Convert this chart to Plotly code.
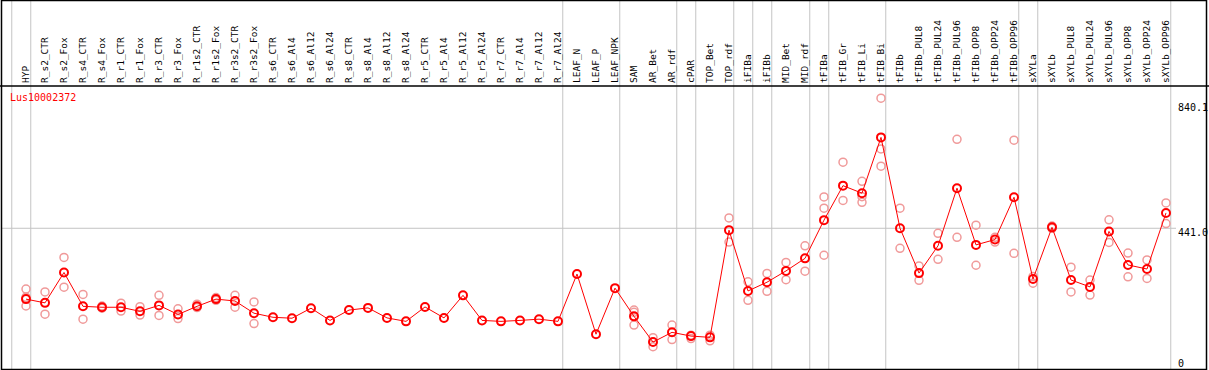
import plotly.graph_objects as go

categories = ["HYP", "R_s2_CTR", "R_s2_Fox", "R_s4_CTR", "R_s4_Fox", "R_r1_CTR", "R_r1_Fox",
              "R_r3_CTR", "R_r3_Fox", "R_r1s2_CTR", "R_r1s2_Fox", "R_r3s2_CTR", "R_r3s2_Fox",
              "R_s6_CTR", "R_s6_Al4", "R_s6_Al12", "R_s6_Al24", "R_s8_CTR", "R_s8_Al4", "R_s8_Al12",
              "R_s8_Al24", "R_r5_CTR", "R_r5_Al4", "R_r5_Al12", "R_r5_Al24", "R_r7_CTR", "R_r7_Al4",
              "R_r7_Al12", "R_r7_Al24", "LEAF_N", "LEAF_P", "LEAF_NPK", "SAM", "AR_Bet", "AR_rdf",
              "cPAR", "TOP_Bet", "TOP_rdf", "iFIBa", "iFIBb", "MID_Bet", "MID_rdf", "tFIBa",
              "tFIB_Gr", "tFIB_Li", "tFIB_Bi", "tFIBb", "tFIBb_PUL8", "tFIBb_PUL24", "tFIBb_PUL96",
              "tFIBb_OPP8", "tFIBb_OPP24", "tFIBb_OPP96", "sXYLa", "sXYLb", "sXYLb_PUL8",
              "sXYLb_PUL24", "sXYLb_PUL96", "sXYLb_OPP8", "sXYLb_OPP24", "sXYLb_OPP96"]

mean_values = [215, 203, 300, 192, 189, 189, 176, 195, 166, 192, 215, 209, 170, 157, 154, 186,
               147, 180, 187, 155, 144, 190, 155, 227, 147, 144, 147, 151, 144, 295, 103, 250,
               160, 78, 109, 97, 93, 435, 241, 269, 305, 345, 467, 577, 553, 731, 441, 298,
               385, 569, 388, 405, 540, 279, 444, 276, 254, 431, 324, 311, 490]

N = None
rep_a = [247, 238, 348, 230, 193, 202, 191, 227, 184, 199, 220, 227, 206, N, N, N,
         N, N, N, N, N, N, N, N, N, N, N, N, N, N, N, N,
         180, 92, 132, 100, 100, 474, 270, 297, 332, 385, 541, 652, 591, 856, 505, 321,
         425, 725, 451, 412, 722, 287, 448, 317, 276, 468, 362, 340, 522]
rep_b = [221, 167, 253, 151, 186, 177, 164, 163, 153, 188, 211, 189, 137, N, N, N,
         N, N, N, N, N, N, N, N, N, N, N, N, N, N, N, N,
         173, 63, 86, 89, 82, 397, 211, 240, 277, 304, 505, 530, 542, 694, 377, 275,
         342, 412, 323, 397, 361, 266, 441, 238, 228, 396, 286, 281, 456]
rep_c = [193, N, N, N, N, N, N, N, N, N, N, N, N, N, N, N,
         N, N, N, N, N, N, N, N, N, N, N, N, N, N, N, N,
         132, N, N, N, N, N, N, N, N, N, 355, N, 524, 639, N, N,
         N, N, N, N, N, N, N, N, N, N, N, N, N]

group_end_index = [-1, 0, 28, 31, 34, 35, 37, 38, 39, 41, 42, 45, 52, 53, 60]

y_tick_values = [840.1, 441.0, 0]
y_tick_labels = ["840.1", "441.0", "0"]
gene_id = "Lus10002372"

W, H = 1209, 370
T, B = 86, 1
x_idx = list(range(len(categories)))
x_min = -26 / 19
x_max = x_min + W / 19
y_min, y_max = -8.0, 895.0

MONO = "DejaVu Sans Mono"
fig = go.Figure()

for reps in (rep_a, rep_b, rep_c):
    fig.add_trace(go.Scatter(
        x=x_idx, y=reps, mode="markers",
        marker=dict(symbol="circle-open", size=8, color="#F09A9A", line=dict(width=1.5, color="#F09A9A")),
        showlegend=False, hoverinfo="skip"))

fig.add_trace(go.Scatter(
    x=x_idx, y=mean_values, mode="lines+markers",
    line=dict(color="#FF0000", width=1),
    marker=dict(symbol="circle-open", size=8, color="#FF0000", line=dict(width=2, color="#FF0000")),
    showlegend=False))

shapes = []
top_paper = 1 + T / (H - T - B)
for g in group_end_index:
    shapes.append(dict(type="line", xref="x", yref="paper", x0=g + 0.25, x1=g + 0.25,
                       y0=0, y1=top_paper, line=dict(color="#C4C4C4", width=1), layer="below"))
# horizontal grid at middle tick
shapes.append(dict(type="line", xref="paper", yref="y", x0=1 / W, x1=1176 / W,
                   y0=y_tick_values[1], y1=y_tick_values[1], line=dict(color="#C4C4C4", width=1),
                   layer="below"))
# frame and header separator
shapes.append(dict(type="rect", xref="paper", yref="paper", x0=1.5 / W, x1=1206.5 / W,
                   y0=-0.5 / (H - T - B), y1=top_paper - 0.5 / (H - T - B),
                   line=dict(color="black", width=1.5)))
shapes.append(dict(type="line", xref="paper", yref="paper", x0=0, x1=1, y0=1, y1=1,
                   line=dict(color="black", width=1.5)))

annotations = []
for v, lab in zip(y_tick_values, y_tick_labels):
    annotations.append(dict(xref="paper", yref="y", x=1176 / W, y=v, text=lab, showarrow=False,
                            xanchor="left", yanchor="middle", yshift=(3 if v == 0 else -4),
                            font=dict(family=MONO, size=10, color="black")))
annotations.append(dict(xref="paper", yref="paper", x=8 / W, y=(H - B - 97) / (H - T - B),
                        text=gene_id, showarrow=False, xanchor="left", yanchor="middle",
                        font=dict(family=MONO, size=10, color="#FF0000")))

fig.update_layout(
    width=W, height=H, margin=dict(l=0, r=0, t=T, b=B),
    paper_bgcolor="white", plot_bgcolor="white",
    shapes=shapes, annotations=annotations,
    xaxis=dict(range=[x_min, x_max], side="top", tickmode="array", tickvals=x_idx,
               ticktext=categories, tickangle=-90, ticks="", showgrid=False, zeroline=False,
               showline=False, tickfont=dict(family=MONO, size=9.5, color="black"),
               ticklabelstandoff=2),
    yaxis=dict(range=[y_min, y_max], showticklabels=False, showgrid=False, zeroline=False,
               showline=False),
)

fig.write_html("out.html", config={"displayModeBar": False},
               post_script="document.body.style.margin='0';document.body.style.overflow='hidden';")
